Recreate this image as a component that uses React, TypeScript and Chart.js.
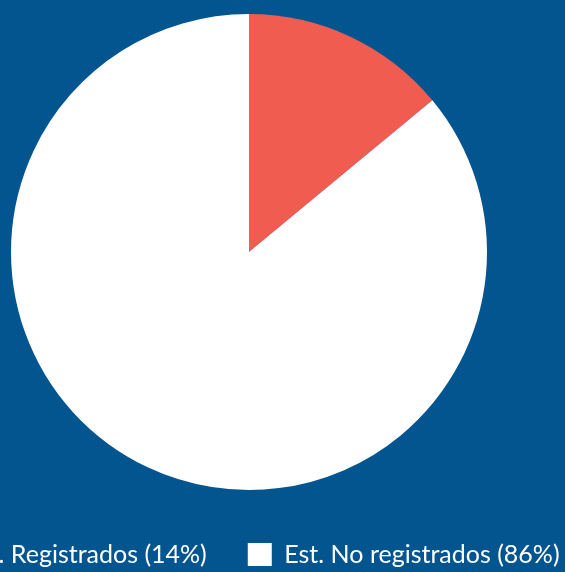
import React, { useEffect, useRef } from "react";
import { Chart, registerables } from "chart.js";

Chart.register(...registerables);

const categories = ["Est. Registrados (14%)", "Est. No registrados (86%)"];
const values = [14, 86];
const sliceColors = ["#F15C50", "#FFFFFF"];

const BG = "#02558F";
const CANVAS_W = 724;
const CANVAS_H = 580;
const CANVAS_LEFT = 249 - CANVAS_W / 2;

export default function App() {
  const ref = useRef<HTMLCanvasElement | null>(null);

  useEffect(() => {
    if (!ref.current) return;
    const chart = new Chart(ref.current, {
      type: "pie",
      data: {
        labels: categories,
        datasets: [
          {
            data: values,
            backgroundColor: sliceColors,
            borderWidth: 0,
          },
        ],
      },
      options: {
        responsive: false,
        animation: false,
        layout: { padding: { top: 14, bottom: 3, left: 0, right: 0 } },
        plugins: {
          tooltip: { enabled: false },
          legend: {
            display: true,
            position: "bottom",
            align: "start",
            title: {
              display: true,
              text: "",
              font: { size: 1, lineHeight: 1 },
              padding: { top: 10, bottom: 0 },
            },
            labels: {
              color: "#FFFFFF",
              font: { family: "Lato", size: 25 },
              boxWidth: 24,
              boxHeight: 23,
              padding: 41,
            },
          },
        },
      },
    });
    return () => chart.destroy();
  }, []);

  return (
    <div
      style={{
        position: "fixed",
        left: 0,
        top: 0,
        width: 565,
        height: 572,
        overflow: "hidden",
        background: BG,
      }}
    >
      <canvas
        ref={ref}
        width={CANVAS_W}
        height={CANVAS_H}
        style={{
          position: "absolute",
          left: CANVAS_LEFT,
          top: 0,
          width: CANVAS_W,
          height: CANVAS_H,
        }}
      />
    </div>
  );
}
